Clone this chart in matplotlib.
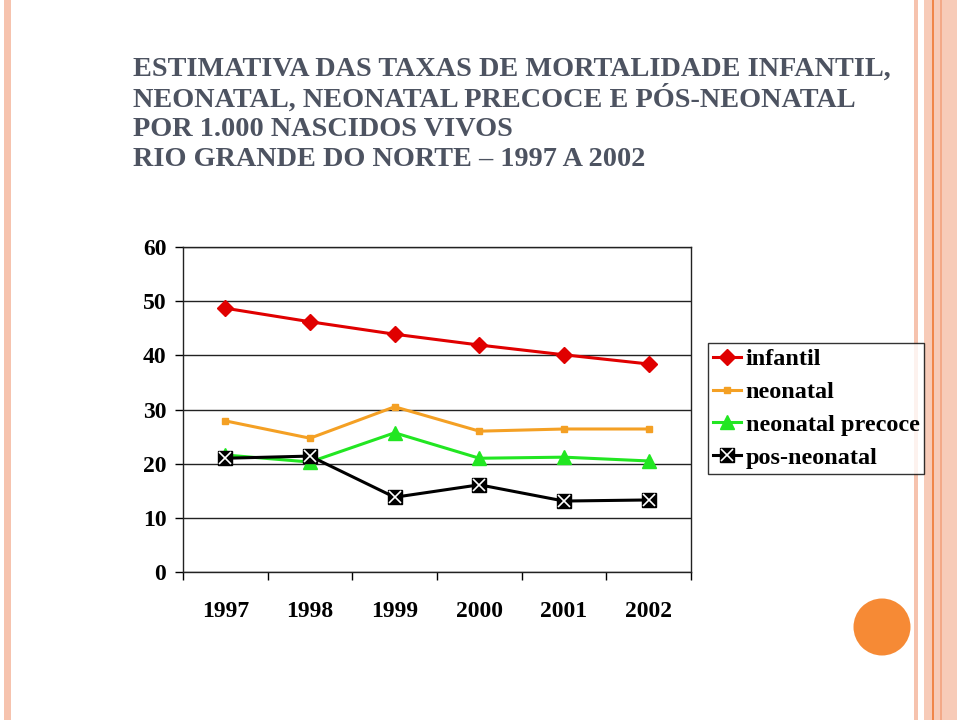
import matplotlib.pyplot as plt
from matplotlib.patches import Rectangle, Ellipse

# Data
years = ["1997", "1998", "1999", "2000", "2001", "2002"]
infantil = [48.7, 46.2, 43.9, 41.9, 40.1, 38.4]
neonatal = [27.9, 24.7, 30.5, 26.0, 26.4, 26.4]
neonatal_precoce = [21.6, 20.3, 25.7, 21.0, 21.2, 20.5]
pos_neonatal = [21.0, 21.4, 13.8, 16.1, 13.1, 13.3]

title_lines = [
    "ESTIMATIVA DAS TAXAS DE MORTALIDADE INFANTIL,",
    "NEONATAL, NEONATAL PRECOCE E PÓS-NEONATAL",
    "POR 1.000 NASCIDOS VIVOS",
    "RIO GRANDE DO NORTE \u2013 1997 A 2002",
]

plt.rcParams['font.family'] = ['Liberation Serif', 'DejaVu Serif']

fig = plt.figure(figsize=(9.6, 7.2), dpi=100)
W, H = 960, 720

def band(x0, x1, color, alpha=1.0):
    fig.add_artist(Rectangle((x0 / W, 0), (x1 - x0) / W, 1, transform=fig.transFigure,
                             facecolor=color, edgecolor='none', alpha=alpha, zorder=0))

# slide decorations
band(4, 11, '#f6c3ae')
band(914, 918, '#f6c3ae')
band(924, 957, '#f7cbb8')
band(931.5, 933.5, '#f0864a')
band(940, 941.5, '#f3a988')
fig.add_artist(Ellipse((882 / W, 1 - 627 / H), 57 / W, 57 / H, transform=fig.transFigure,
                       facecolor='#f68a35', edgecolor='none', zorder=0))

# title
for i, line in enumerate(title_lines):
    fig.text(133 / W, 1 - (69 + 30 * i) / H, line, fontsize=20.3, color='#4d5361',
             fontweight='bold', ha='left', va='center')

ax = fig.add_axes([183 / W, 1 - 572 / H, 508 / W, 325 / H])
x = range(len(years))

ax.plot(x, infantil, color='#e00000', lw=2.2, marker='D', ms=8, label='infantil', zorder=5)
ax.plot(x, neonatal, color='#f4a024', lw=2.2, marker='s', ms=5, label='neonatal', zorder=4)
ax.plot(x, neonatal_precoce, color='#22e622', lw=2.2, marker='^', ms=10,
        label='neonatal precoce', zorder=3)
l_pos, = ax.plot(x, pos_neonatal, color='black', lw=2.2, marker='s', ms=10, zorder=6)
l_x, = ax.plot(x, pos_neonatal, color='none', marker='x', ms=9, mec='white', mew=1.2,
               zorder=7, ls='none')

ax.set_xlim(-0.5, 5.5)
ax.set_ylim(0, 60)
ax.set_yticks(range(0, 61, 10))
ax.set_xticks(list(x))
ax.set_xticklabels(years)
ax.set_xticks([i - 0.5 for i in range(len(years) + 1)], minor=True)
ax.tick_params(axis='x', which='major', length=0, pad=21, labelsize=17)
ax.tick_params(axis='x', which='minor', length=6, width=1, direction='out')
ax.tick_params(axis='y', length=6, width=1, direction='out', pad=6, labelsize=17)
for lab in ax.get_xticklabels() + ax.get_yticklabels():
    lab.set_fontweight('bold')
ax.grid(axis='y', color='#222222', lw=1)
ax.set_axisbelow(True)
for s in ax.spines.values():
    s.set_color('#222222')
    s.set_linewidth(1)

handles, labels = ax.get_legend_handles_labels()
handles.append((l_pos, l_x))
labels.append('pos-neonatal')
leg = fig.legend(handles, labels, loc='center left', bbox_to_anchor=(708 / W, 1 - 408.5 / H),
                 prop={'size': 17.5, 'weight': 'bold'}, frameon=True, fancybox=False,
                 edgecolor='black', handlelength=1.15, handletextpad=0.2,
                 labelspacing=0.45, borderpad=0.2, borderaxespad=0)
leg.get_frame().set_linewidth(1)

fig.savefig('out.png', dpi=100)
